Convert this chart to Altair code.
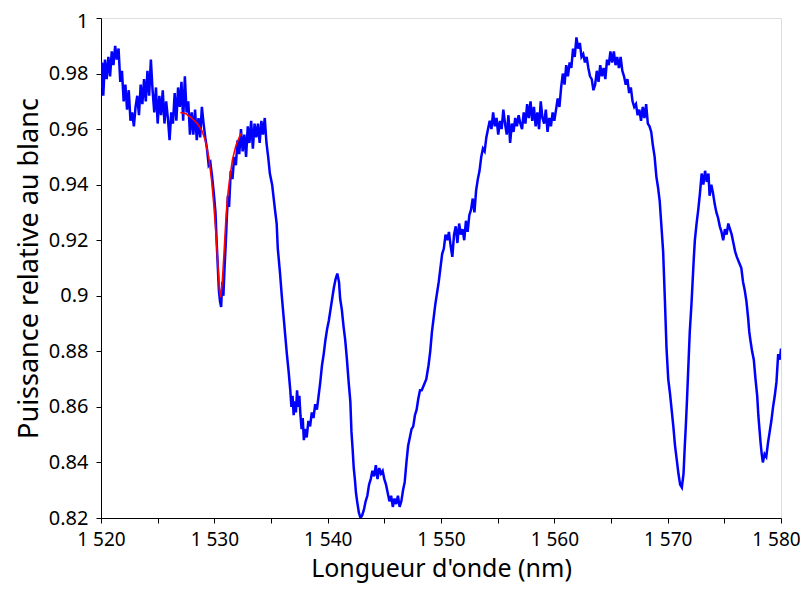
import altair as alt
import pandas as pd

# Blue measured spectrum (wavelength nm, relative power)
wl = [1520.0,1520.1,1520.2,1520.35,1520.5,1520.65,1520.8,1520.95,1521.1,1521.25,1521.4,1521.55,1521.7,1521.85,1522.0,1522.15,1522.3,1522.45,1522.6,1522.75,1522.9,1523.05,1523.2,1523.35,1523.5,1523.65,1523.8,1523.95,1524.1,1524.25,1524.4,1524.55,1524.7,1524.85,1525.0,1525.15,1525.3,1525.45,1525.6,1525.75,1525.9,1526.05,1526.2,1526.35,1526.5,1526.65,1526.8,1526.95,1527.1,1527.25,1527.4,1527.55,1527.7,1527.85,1528.0,1528.15,1528.3,1528.45,1528.6,1528.75,1528.9,1529.05,1529.2,1529.35,1529.5,1529.65,1529.8,1529.95,1530.1,1530.2,1530.3,1530.4,1530.5,1530.6,1530.7,1530.8,1530.9,1531.0,1531.1,1531.2,1531.3,1531.45,1531.6,1531.75,1531.9,1532.05,1532.2,1532.35,1532.5,1532.65,1532.8,1532.95,1533.1,1533.25,1533.4,1533.55,1533.7,1533.85,1534.0,1534.15,1534.3,1534.45,1534.6,1534.75,
      1534.9,1535.1,1535.35,1535.5,1535.6,1535.8,1535.95,1536.1,1536.25,1536.4,1536.55,1536.7,1536.8,1536.9,1537.0,1537.1,1537.2,1537.3,1537.4,1537.5,1537.6,1537.7,1537.8,1537.9,1538.0,1538.15,1538.3,1538.45,1538.6,1538.75,1538.9,1539.05,1539.2,1539.35,1539.5,1539.65,1539.8,1539.95,1540.1,1540.25,1540.4,1540.55,1540.7,1540.85,1541.0,1541.1,1541.25,1541.4,1541.55,1541.7,1541.85,1542.0,1542.1,1542.2,1542.3,1542.4,1542.5,1542.6,1542.75,1542.9,1543.05,1543.2,1543.35,1543.5,1543.65,1543.8,1543.95,1544.1,1544.25,1544.4,1544.55,1544.7,1544.85,1545.0,1545.15,1545.3,1545.45,1545.6,1545.75,1545.9,1546.05,1546.2,1546.35,1546.5,1546.65,1546.8,1546.95,1547.1,1547.25,1547.4,1547.55,1547.7,1547.85,1548.0,1548.15,1548.3,1548.5,1548.7,1548.9,1549.05,1549.2,1549.35,1549.5,1549.65,1549.8,1549.95,
      1550.1,1550.25,1550.4,1550.55,1550.7,1550.85,1551.0,1551.15,1551.3,1551.45,1551.6,1551.75,1551.9,1552.05,1552.2,1552.35,1552.5,1552.65,1552.8,1552.95,1553.1,1553.25,1553.4,1553.55,1553.7,1553.85,1554.0,1554.15,1554.3,1554.45,1554.6,1554.75,1554.9,1555.05,1555.2,1555.35,1555.5,1555.65,1555.8,1555.95,1556.1,1556.25,1556.4,1556.55,1556.7,1556.85,1557.0,1557.15,1557.3,1557.45,1557.6,1557.75,1557.9,1558.05,1558.2,1558.35,1558.5,1558.65,1558.8,1558.95,1559.1,1559.25,1559.4,1559.55,1559.7,1559.85,1560.0,1560.15,1560.3,1560.45,1560.6,1560.75,1560.9,1561.05,1561.2,1561.35,1561.5,1561.65,1561.8,1561.95,1562.1,1562.25,1562.4,1562.55,1562.7,1562.85,1563.0,1563.15,1563.3,1563.45,1563.6,1563.75,1563.9,1564.05,1564.2,1564.35,1564.5,1564.65,1564.8,1564.95,1565.1,1565.25,1565.4,1565.55,1565.7,1565.85,1566.0,1566.15,1566.3,1566.45,1566.6,1566.75,1566.9,1567.05,1567.2,1567.35,1567.5,1567.65,1567.8,1567.95,1568.1,1568.25,1568.4,1568.55,1568.7,1568.85,1569.0,1569.15,1569.3,1569.45,1569.6,1569.75,1569.9,
      1570.05,1570.2,1570.35,1570.5,1570.65,1570.8,1570.95,1571.1,1571.25,1571.4,1571.5,1571.6,1571.7,1571.85,1571.95,1572.1,1572.2,1572.3,1572.4,1572.55,1572.7,1572.85,1573.0,1573.15,1573.3,1573.45,1573.6,1573.7,1573.85,1574.0,1574.15,1574.3,1574.45,1574.6,1574.75,1574.9,1575.05,1575.2,1575.35,1575.5,1575.65,1575.8,1575.95,1576.1,1576.3,1576.5,1576.65,1576.8,1576.95,1577.1,1577.2,1577.3,1577.45,1577.6,1577.75,1577.9,1578.0,1578.1,1578.2,1578.3,1578.4,1578.55,1578.7,1578.85,1579.0,1579.15,1579.3,1579.45,1579.6,1579.75,1579.9,1580.0]
power = [0.975,0.984,0.972,0.985,0.978,0.986,0.979,0.988,0.983,0.990,0.985,0.989,0.977,0.981,0.970,0.976,0.967,0.974,0.963,0.966,0.961,0.968,0.972,0.965,0.976,0.969,0.978,0.970,0.981,0.972,0.985,0.974,0.966,0.975,0.962,0.972,0.965,0.974,0.962,0.970,0.964,0.956,0.966,0.962,0.973,0.963,0.975,0.968,0.977,0.963,0.979,0.966,0.970,0.958,0.966,0.958,0.967,0.956,0.964,0.957,0.968,0.962,0.957,0.953,0.947,0.948,0.943,0.937,0.930,0.920,0.911,0.902,0.898,0.896,0.905,0.900,0.910,0.918,0.928,0.936,0.932,0.945,0.942,0.950,0.947,0.956,0.951,0.960,0.952,0.958,0.950,0.961,0.955,0.963,0.953,0.962,0.957,0.962,0.955,0.963,0.958,0.964,0.955,0.950,
         0.944,0.940,0.931,0.926,0.917,0.908,0.900,0.893,0.886,0.879,0.873,0.866,0.860,0.864,0.857,0.862,0.858,0.866,0.860,0.864,0.857,0.852,0.856,0.848,0.852,0.849,0.855,0.853,0.858,0.856,0.861,0.859,0.864,0.869,0.875,0.879,0.884,0.888,0.891,0.895,0.899,0.903,0.906,0.908,0.905,0.899,0.895,0.889,0.884,0.877,0.869,0.862,0.851,0.845,0.838,0.834,0.829,0.826,0.822,0.820,0.821,0.823,0.826,0.828,0.832,0.834,0.837,0.835,0.839,0.834,0.838,0.836,0.837,0.834,0.832,0.829,0.826,0.828,0.824,0.827,0.825,0.828,0.824,0.826,0.830,0.833,0.840,0.846,0.849,0.852,0.853,0.857,0.859,0.863,0.866,0.866,0.868,0.870,0.875,0.880,0.887,0.892,0.897,0.901,0.905,0.910,
         0.915,0.917,0.922,0.920,0.923,0.918,0.914,0.922,0.925,0.919,0.926,0.922,0.924,0.920,0.927,0.923,0.929,0.931,0.935,0.930,0.938,0.942,0.945,0.950,0.953,0.952,0.957,0.960,0.963,0.960,0.966,0.961,0.964,0.958,0.963,0.960,0.967,0.962,0.958,0.965,0.955,0.962,0.959,0.964,0.961,0.965,0.962,0.960,0.966,0.962,0.969,0.964,0.970,0.963,0.968,0.961,0.966,0.960,0.970,0.964,0.962,0.967,0.959,0.964,0.961,0.966,0.963,0.967,0.971,0.968,0.975,0.980,0.976,0.983,0.979,0.984,0.982,0.989,0.986,0.993,0.989,0.991,0.986,0.987,0.984,0.986,0.982,0.979,0.978,0.974,0.976,0.981,0.977,0.983,0.979,0.982,0.978,0.985,0.983,0.988,0.984,0.988,0.983,0.986,0.982,0.986,0.981,0.979,0.976,0.978,0.973,0.975,0.970,0.968,0.969,0.965,0.967,0.963,0.968,0.964,0.969,0.962,0.961,0.959,0.954,0.950,0.943,0.939,0.934,0.925,0.916,0.899,0.881,
         0.870,0.865,0.859,0.853,0.846,0.841,0.836,0.832,0.831,0.836,0.845,0.853,0.862,0.877,0.887,0.897,0.905,0.913,0.920,0.926,0.931,0.937,0.944,0.940,0.945,0.941,0.944,0.936,0.940,0.937,0.933,0.930,0.928,0.925,0.923,0.920,0.924,0.922,0.926,0.924,0.922,0.919,0.916,0.914,0.912,0.910,0.905,0.902,0.898,0.892,0.887,0.884,0.880,0.877,0.870,0.864,0.857,0.852,0.847,0.843,0.840,0.843,0.842,0.847,0.851,0.855,0.860,0.864,0.869,0.879,0.877,0.881]

# Red fitted dip
fit_wl = [1527.0,1527.5,1528.0,1528.5,1528.9,1529.2,1529.5,1529.75,1529.95,1530.15,1530.3,1530.45,1530.56,1530.7,1530.85,1531.0,1531.15,1531.35,1531.6,1531.9,1532.2,1532.4]
fit_power = [0.966,0.9655,0.964,0.962,0.9595,0.956,0.950,0.942,0.933,0.922,0.912,0.902,0.8995,0.905,0.915,0.926,0.935,0.942,0.949,0.954,0.957,0.9586]

x_ticks = [1520, 1525, 1530, 1535, 1540, 1545, 1550, 1555, 1560, 1565, 1570, 1575, 1580]
y_ticks = [0.82, 0.83, 0.84, 0.85, 0.86, 0.87, 0.88, 0.89, 0.90, 0.91, 0.92, 0.93, 0.94,
           0.95, 0.96, 0.97, 0.98, 0.99, 1.0]

df = pd.DataFrame({"wl": wl, "p": power})
dfit = pd.DataFrame({"wl": fit_wl, "p": fit_power})

FONT = "Noto Sans"

x_enc = alt.X("wl:Q", scale=alt.Scale(domain=[1520, 1580], nice=False, zero=False),
              axis=alt.Axis(title="Longueur d'onde (nm)", values=x_ticks,
                            labelExpr="datum.value % 10 == 0 ? replace(format(datum.value, ','), ',', ' ') : ''",
                            labelOffset=alt.ConditionalAxisNumber(
                                condition={"test": "datum.value == 1580", "value": -5}, value=0),
                            grid=False, domainColor="black", tickColor="black",
                            tickSize=5, labelPadding=7, labelFontSize=19,
                            labelColor="black", titleFontSize=25, titleFontWeight="normal",
                            titleColor="black", titlePadding=7, labelFont=FONT,
                            titleFont=FONT, labelFlush=False, labelOverlap=False))
y_enc = alt.Y("p:Q", scale=alt.Scale(domain=[0.82, 1.0], nice=False, zero=False),
              axis=alt.Axis(title="Puissance relative au blanc", values=y_ticks,
                            labelExpr="round(datum.value * 100) % 2 == 0 ? format(datum.value, '.2~f') : ''",
                            labelOffset=alt.ConditionalAxisNumber(
                                condition={"test": "datum.value == 1", "value": 3}, value=0),
                            grid=False, domainColor="black", tickColor="black",
                            tickSize=5, labelPadding=8, labelFontSize=20,
                            labelColor="black", titleFontSize=27, titleFontWeight="normal",
                            titleColor="black", titlePadding=5, labelFont=FONT,
                            titleFont=FONT, labelFlush=False, labelOverlap=False))

blue = alt.Chart(df).mark_line(color="#0000ff", strokeWidth=2.5, clip=True).encode(x=x_enc, y=y_enc)
red = alt.Chart(dfit).mark_line(color="#ff0000", strokeWidth=1.6, clip=True).encode(x="wl:Q", y="p:Q")

chart = (blue + red).properties(
    width=680, height=500,
    autosize=alt.AutoSizeParams(type="none"),
    padding={"left": 93, "top": 10, "right": 19, "bottom": 68},
).configure_view(stroke="black", strokeWidth=1.5).configure(background="white")

chart.save("out.html", embed_options={"renderer": "svg", "actions": False})
